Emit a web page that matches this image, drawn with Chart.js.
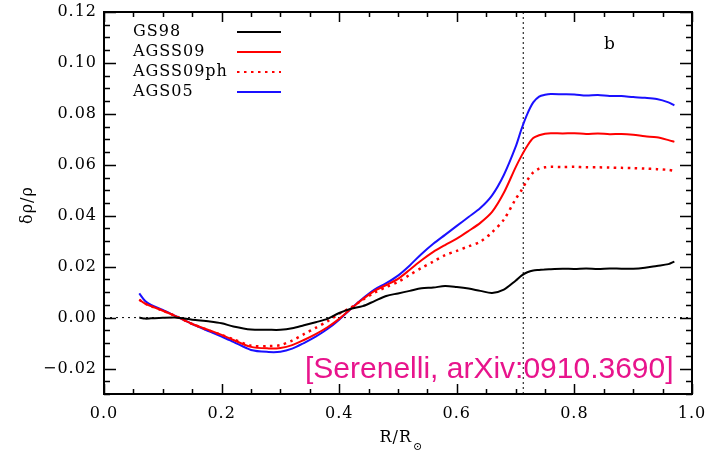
<!DOCTYPE html>
<html>
<head>
<meta charset="utf-8">
<script src="https://cdn.jsdelivr.net/npm/chart.js@4/dist/chart.umd.min.js"></script>
<style>
html,body{margin:0;padding:0;background:#fff;}
#wrap{width:708px;height:450px;position:relative;}
</style>
</head>
<body>
<div id="wrap"><canvas id="c" width="708" height="450"></canvas></div>
<script>
// ---- data ----
const radius = [0.06,0.07,0.08,0.10,0.12,0.13,0.15,0.18,0.20,0.22,0.25,0.28,0.30,0.32,0.34,0.36,0.38,0.40,0.42,0.44,0.46,0.48,0.50,0.52,0.54,0.56,0.58,0.60,0.62,0.64,0.66,0.68,0.70,0.71,0.72,0.73,0.74,0.75,0.76,0.78,0.80,0.82,0.84,0.86,0.88,0.90,0.92,0.94,0.96,0.97];
const gs98 = [0.0000,-0.0004,-0.0003,-0.0001,0.0000,-0.0002,-0.0008,-0.0015,-0.0022,-0.0035,-0.0047,-0.0048,-0.0048,-0.0042,-0.0030,-0.0018,-0.0005,0.0018,0.0035,0.0045,0.0065,0.0085,0.0095,0.0105,0.0115,0.0118,0.0124,0.0120,0.0114,0.0105,0.0097,0.0110,0.0145,0.0165,0.0178,0.0185,0.0187,0.0189,0.0190,0.0192,0.0191,0.0193,0.0191,0.0193,0.0192,0.0192,0.0196,0.0203,0.0210,0.0220];
const agss09 = [0.0070,0.0055,0.0045,0.0027,0.0008,-0.0003,-0.0025,-0.0050,-0.0068,-0.0088,-0.0115,-0.0121,-0.0119,-0.0108,-0.0088,-0.0065,-0.0038,-0.0005,0.0035,0.0072,0.0105,0.0128,0.0152,0.0188,0.0225,0.0258,0.0285,0.0310,0.0340,0.0372,0.0415,0.0490,0.0590,0.0635,0.0675,0.0705,0.0716,0.0722,0.0724,0.0723,0.0724,0.0721,0.0723,0.0720,0.0721,0.0718,0.0712,0.0708,0.0697,0.0690];
const agss09ph = [0.0070,0.0055,0.0045,0.0027,0.0008,-0.0003,-0.0025,-0.0052,-0.0068,-0.0085,-0.0110,-0.0112,-0.0108,-0.0090,-0.0065,-0.0040,-0.0015,0.0015,0.0040,0.0070,0.0098,0.0120,0.0140,0.0168,0.0195,0.0220,0.0245,0.0262,0.0280,0.0298,0.0335,0.0385,0.0465,0.0500,0.0540,0.0570,0.0585,0.0590,0.0592,0.0591,0.0592,0.0590,0.0590,0.0589,0.0588,0.0587,0.0585,0.0583,0.0580,0.0576];
const ags05 = [0.0095,0.0065,0.0050,0.0030,0.0008,-0.0003,-0.0025,-0.0055,-0.0075,-0.0095,-0.0127,-0.0135,-0.0134,-0.0122,-0.0100,-0.0075,-0.0045,-0.0008,0.0035,0.0075,0.0110,0.0135,0.0165,0.0205,0.0250,0.0290,0.0325,0.0360,0.0395,0.0430,0.0480,0.0560,0.0670,0.0740,0.0800,0.0845,0.0868,0.0875,0.0878,0.0877,0.0876,0.0872,0.0874,0.0870,0.0870,0.0866,0.0863,0.0858,0.0845,0.0833];
const seriesNames = ["GS98","AGSS09","AGSS09ph","AGS05"];
const xTicks = [0.0,0.2,0.4,0.6,0.8,1.0];
const yTicks = [-0.02,0.00,0.02,0.04,0.06,0.08,0.10,0.12];
const xMinorStep = 0.05, yMinorStep = 0.005;
const xRange = [0,1], yRange = [-0.03,0.12];
const bczRadius = 0.713;
const panelLabel = "b";
const citation = "[Serenelli, arXiv:0910.3690]";

const toPts = arr => arr.map((v,i)=>({x:radius[i], y:v}));
const serif = '"DejaVu Serif", serif';

const frame = {
  id:'frame',
  beforeDatasetsDraw(chart){
    const {ctx, chartArea:a, scales:{x,y}} = chart;
    ctx.save();
    ctx.strokeStyle='#000'; ctx.lineWidth=1;
    ctx.setLineDash([2,4]);
    const y0 = y.getPixelForValue(0);
    ctx.beginPath(); ctx.moveTo(a.left,y0); ctx.lineTo(a.right,y0); ctx.stroke();
    const xb = x.getPixelForValue(bczRadius);
    ctx.setLineDash([2,3]);
    ctx.beginPath(); ctx.moveTo(xb,a.top); ctx.lineTo(xb,a.bottom); ctx.stroke();
    ctx.restore();
  },
  afterDraw(chart){
    const {ctx, chartArea:a, scales:{x,y}} = chart;
    ctx.save();
    ctx.strokeStyle='#000'; ctx.lineWidth=2; ctx.setLineDash([]);
    ctx.strokeRect(a.left,a.top,a.right-a.left,a.bottom-a.top);
    ctx.lineWidth=1.5;
    // x ticks
    const nx = Math.round((xRange[1]-xRange[0])/xMinorStep);
    for(let i=0;i<=nx;i++){
      const v = xRange[0]+i*xMinorStep;
      const major = xTicks.some(t=>Math.abs(t-v)<1e-9);
      const len = major?10:5;
      const px = Math.round(x.getPixelForValue(v))+0.5;
      ctx.beginPath();
      ctx.moveTo(px,a.bottom); ctx.lineTo(px,a.bottom-len);
      ctx.moveTo(px,a.top); ctx.lineTo(px,a.top+len);
      ctx.stroke();
    }
    const ny = Math.round((yRange[1]-yRange[0])/yMinorStep);
    for(let i=0;i<=ny;i++){
      const v = yRange[0]+i*yMinorStep;
      const major = yTicks.some(t=>Math.abs(t-v)<1e-9);
      const len = major?12:6;
      const py = Math.round(y.getPixelForValue(v))+0.5;
      ctx.beginPath();
      ctx.moveTo(a.left,py); ctx.lineTo(a.left+len,py);
      ctx.moveTo(a.right,py); ctx.lineTo(a.right-len,py);
      ctx.stroke();
    }
    // tick labels
    ctx.fillStyle='#000';
    ctx.font='16px '+serif;
    ctx.letterSpacing='1px';
    ctx.textAlign='center'; ctx.textBaseline='alphabetic';
    xTicks.forEach(t=>{
      ctx.fillText(t.toFixed(1), x.getPixelForValue(t), 418);
    });
    ctx.textAlign='right'; ctx.textBaseline='middle';
    yTicks.forEach(t=>{
      ctx.fillText(t.toFixed(2).replace('-','\u2212'), 97, y.getPixelForValue(t));
    });
    // axis titles
    ctx.textAlign='right'; ctx.textBaseline='alphabetic';
    ctx.font='16px '+serif;
    ctx.fillText('R/R', 412, 442);
    ctx.textAlign='left';
    ctx.font='11px '+serif;
    ctx.fillText('\u2299', 413, 450);
    ctx.save();
    ctx.translate(32,205); ctx.rotate(-Math.PI/2);
    ctx.font='16px '+serif; ctx.textAlign='center';
    ctx.fillText('\u03b4\u03c1/\u03c1',0,0);
    ctx.restore();
    // legend
    ctx.font='16px '+serif; ctx.textAlign='left'; ctx.textBaseline='middle';
    chart.data.datasets.forEach((d,i)=>{
      const yy = 32 + i*20;
      ctx.fillStyle='#000';
      ctx.fillText(d.label,133,yy);
      ctx.strokeStyle=d.borderColor; ctx.lineWidth=2;
      ctx.setLineDash(d.borderDash||[]);
      ctx.beginPath(); ctx.moveTo(237,yy); ctx.lineTo(281,yy); ctx.stroke();
    });
    ctx.setLineDash([]);
    // panel label
    ctx.fillStyle='#000'; ctx.font='17px '+serif; ctx.textBaseline='alphabetic';
    ctx.fillText(panelLabel,604,49);
    // citation
    ctx.letterSpacing='0px';
    ctx.fillStyle='rgb(232,20,140)';
    ctx.font='30px "Liberation Sans", Arial, sans-serif';
    ctx.fillText(citation,305,378);
    ctx.restore();
  }
};

new Chart(document.getElementById('c'),{
  type:'line',
  data:{datasets:[
    {label:seriesNames[0],data:toPts(gs98),borderColor:'#000000',borderWidth:2},
    {label:seriesNames[1],data:toPts(agss09),borderColor:'#ff0000',borderWidth:2},
    {label:seriesNames[2],data:toPts(agss09ph),borderColor:'#ff0000',borderWidth:2.5,borderDash:[2.5,4.5]},
    {label:seriesNames[3],data:toPts(ags05),borderColor:'#1a10ff',borderWidth:2}
  ]},
  options:{
    responsive:false, animation:false,
    layout:{padding:{left:104,right:16,top:12,bottom:56}},
    elements:{point:{radius:0},line:{tension:0.3,fill:false}},
    plugins:{legend:{display:false},tooltip:{enabled:false}},
    scales:{
      x:{type:'linear',min:xRange[0],max:xRange[1],display:false},
      y:{type:'linear',min:yRange[0],max:yRange[1],display:false}
    }
  },
  plugins:[frame]
});
</script>
</body>
</html>
